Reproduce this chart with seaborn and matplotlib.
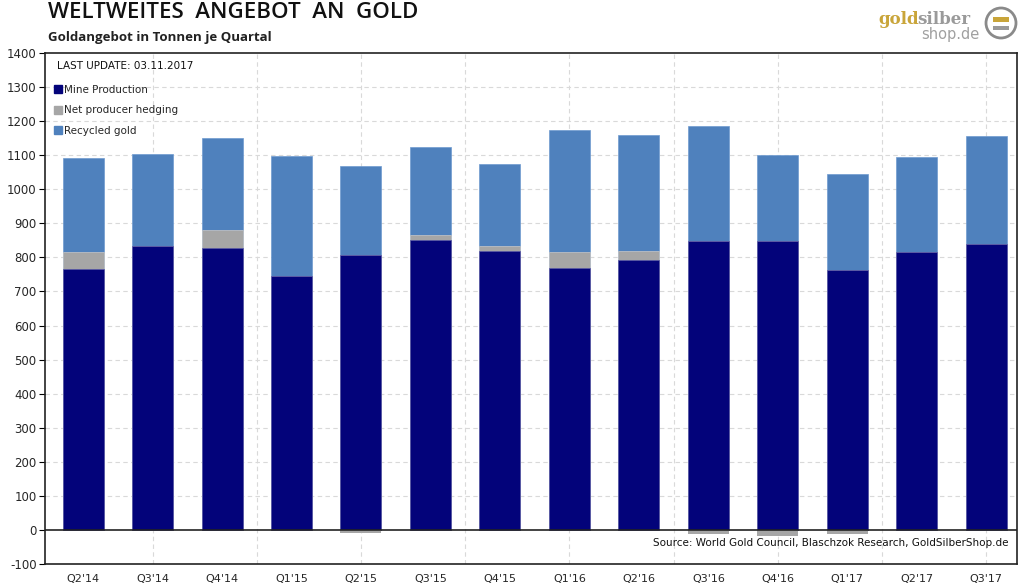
import numpy as np
import pandas as pd
import matplotlib
matplotlib.use("Agg")
import matplotlib.pyplot as plt
from matplotlib.lines import Line2D
from matplotlib.patches import Ellipse, FancyBboxPatch
import seaborn as sns

quarters = ["Q2'14", "Q3'14", "Q4'14", "Q1'15", "Q2'15", "Q3'15", "Q4'15",
            "Q1'16", "Q2'16", "Q3'16", "Q4'16", "Q1'17", "Q2'17", "Q3'17"]
mine_production = [765, 835, 828, 745, 808, 850, 818, 768, 793, 848, 848, 762, 815, 840]
net_hedging = [50, 0, 52, 0, -10, 15, 17, 47, 27, -13, -19, -13, 0, 0]
recycled_gold = [277, 270, 270, 352, 260, 260, 240, 360, 340, 339, 254, 283, 280, 317]
yticks = list(range(-100, 1401, 100))

C_MINE = "#03037A"
C_HEDGE = "#A6A6A6"
C_RECY = "#4F81BD"

sns.set_theme(style="white")
plt.rcParams['font.family'] = ['DejaVu Sans']

df = pd.DataFrame({"q": quarters, "mine": mine_production,
                   "hedge": net_hedging, "recy": recycled_gold})
df["hedge_pos"] = df["hedge"].clip(lower=0)
df["hedge_neg"] = df["hedge"].clip(upper=0)
df["lvl_hedge"] = df["mine"] + df["hedge_pos"]
df["lvl_total"] = df["lvl_hedge"] + df["recy"]

fig = plt.figure(figsize=(10.24, 5.88), dpi=100)
ax = fig.add_axes([0.044, 0.0408, 0.949, 0.869])

W = 0.59
sns.barplot(data=df, x="q", y="lvl_total", color=C_RECY, width=W, ax=ax,
            saturation=1, edgecolor="#6f9bd0", linewidth=0.5, zorder=3)
sns.barplot(data=df, x="q", y="lvl_hedge", color=C_HEDGE, width=W, ax=ax,
            saturation=1, edgecolor="#c8c8c8", linewidth=0.5, zorder=3)
sns.barplot(data=df, x="q", y="mine", color=C_MINE, width=W, ax=ax,
            saturation=1, edgecolor="#5a5aa8", linewidth=0.5, zorder=3)
sns.barplot(data=df, x="q", y="hedge_neg", color=C_HEDGE, width=W, ax=ax,
            saturation=1, linewidth=0, zorder=3)

ax.set_xlim(-0.547, 13.44)
ax.set_ylim(-100, 1400)
ax.set_yticks(yticks)
ax.set_yticklabels([str(t) for t in yticks], fontsize=8.5)
ax.set_xticks(range(len(quarters)))
ax.set_xticklabels(quarters, fontsize=8)
ax.set_xlabel("")
ax.set_ylabel("")
ax.tick_params(axis="x", length=0, pad=7)
ax.tick_params(axis="y", length=4, width=0.8, direction="out", color="black", pad=2, left=True)

for t in yticks[1:-1]:
    if t != 0:
        ax.axhline(t, color="#d9d9d9", lw=0.8, ls=(0, (4, 3)), zorder=0)
for xv in np.arange(1, 13.5, 1.5):
    ax.axvline(xv, color="#d9d9d9", lw=0.8, ls=(0, (4, 3)), zorder=0)
ax.axhline(0, color="#222222", lw=1.2, zorder=4)

for s in ax.spines.values():
    s.set_visible(True)
    s.set_color("#222222")
    s.set_linewidth(1.2)

ax.text(0.012, 0.985, "LAST UPDATE: 03.11.2017", transform=ax.transAxes,
        fontsize=7.5, va="top", ha="left", color="#111111")
handles = [Line2D([], [], marker="s", ls="", color=c, markersize=5.5)
           for c in (C_MINE, C_HEDGE, C_RECY)]
leg = ax.legend(handles, ["Mine Production", "Net producer hedging", "Recycled gold"],
                loc="upper left", bbox_to_anchor=(0.0, 0.952), frameon=False,
                fontsize=7.5, handletextpad=0.1, handlelength=1.0,
                labelspacing=1.0, borderaxespad=0.3)

ax.text(0.991, 0.042, "Source: World Gold Council, Blaschzok Research, GoldSilberShop.de",
        transform=ax.transAxes, fontsize=7.5, ha="right", va="center", color="#111111")

fig.text(48/1024, 1-13/588, "WELTWEITES  ANGEBOT  AN  GOLD", fontsize=16,
         fontweight="semibold", family="Open Sans", ha="left", va="center", color="#111111")
fig.text(48/1024, 1-37/588, "Goldangebot in Tonnen je Quartal", fontsize=9.5,
         fontweight="bold", family="Open Sans", ha="left", va="center", color="#222222")

# logo
fig.text(878/1024, 1-19/588, "gold", fontsize=12, fontweight="bold", family="DejaVu Serif",
         color="#C9A53A", ha="left", va="center")
fig.text(917/1024, 1-19/588, "silber", fontsize=12, fontweight="bold", family="DejaVu Serif",
         color="#9a9a9a", ha="left", va="center")
fig.text(921/1024, 1-35/588, "shop.de", fontsize=10.5, family="DejaVu Sans",
         color="#a0a0a0", ha="left", va="center")
cx, cy, r = 1001, 23, 15
fig.patches.append(Ellipse((cx/1024, 1-cy/588), 2*r/1024, 2*r/588, transform=fig.transFigure,
                           fill=False, edgecolor="#8a8a8a", lw=2))
fig.patches.append(FancyBboxPatch(((cx-8)/1024, 1-(cy-1)/588), 16/1024, 5/588,
                                  boxstyle="square,pad=0", transform=fig.transFigure,
                                  facecolor="#C9A53A", edgecolor="none"))
fig.patches.append(FancyBboxPatch(((cx-8)/1024, 1-(cy+7)/588), 16/1024, 4/588,
                                  boxstyle="square,pad=0", transform=fig.transFigure,
                                  facecolor="#9a9a9a", edgecolor="none"))

fig.savefig("out.png", dpi=100)
